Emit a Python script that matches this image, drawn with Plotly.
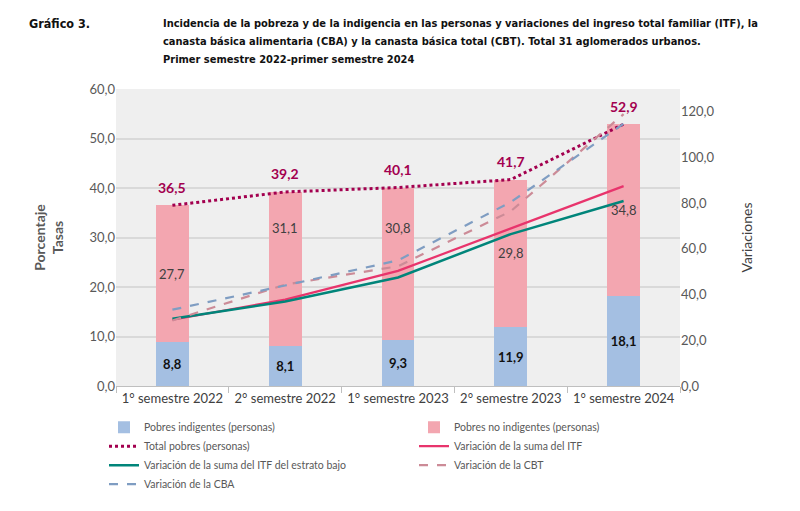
import plotly.graph_objects as go

# data
semestres = ["1° semestre 2022", "2° semestre 2022", "1° semestre 2023",
             "2° semestre 2023", "1° semestre 2024"]
indigentes = [8.8, 8.1, 9.3, 11.9, 18.1]
no_indigentes = [27.7, 31.1, 30.8, 29.8, 34.8]
total_pobres = [36.5, 39.2, 40.1, 41.7, 52.9]
var_itf = [29.0, 37.8, 50.4, 68.8, 87.5]
var_itf_bajo = [29.4, 37.0, 47.5, 66.5, 81.0]
var_cbt = [28.7, 44.4, 52.4, 76.5, 119.0]
var_cba = [33.4, 44.0, 55.0, 80.5, 114.8]

# where the pink labels sit (left axis units)
label_no_ind_y = [22.6, 32.0, 32.0, 26.8, 35.5]

title_lines = [
    "Incidencia de la pobreza y de la indigencia en las personas y variaciones del ingreso total familiar (ITF), la",
    "canasta básica alimentaria (CBA) y la canasta básica total (CBT). Total 31 aglomerados urbanos.",
    "Primer semestre 2022-primer semestre 2024",
]

font_main = "Lato, 'Open Sans', sans-serif"
font_title = "'DejaVu Sans Condensed', 'Liberation Sans', sans-serif"
gray_txt = "#595959"

# page body has an 8px margin, so the figure is drawn 8px in from the corner
OFF = 8
W, H = 800 - OFF, 511 - OFF
# plot area in figure pixels
PL, PR, PT, PB = 116 - OFF, 680 - OFF, 89 - OFF, 412 - OFF


def px_x(x):
    # screen pixel -> paper x
    return (x - OFF - PL) / (PR - PL)


def px_y(y):
    # screen pixel -> paper y
    return (PB - (y - OFF)) / (PB - PT)


fig = go.Figure()

fig.add_trace(go.Bar(
    x=semestres, y=indigentes, name="Pobres indigentes (personas)"
    , marker=dict(color="#a4bfe2", line=dict(width=0))
    , width=0.29
    , text=[f"{v:.1f}".replace(".", ",") for v in indigentes]
    , textposition="inside", insidetextanchor="middle"
    , textfont=dict(color="#111111", size=13, family=font_main, weight="bold")
))
fig.add_trace(go.Bar(
    x=semestres, y=no_indigentes, name="Pobres no indigentes (personas)"
    , marker=dict(color="#f3a6b0", line=dict(width=0))
    , width=0.29
))
fig.add_trace(go.Scatter(
    x=semestres, y=total_pobres, name="Total pobres (personas)"
    , mode="lines", line=dict(color="#a3004f", width=3, dash="dot")
))
fig.add_trace(go.Scatter(
    x=semestres, y=var_itf, name="Variación de la suma del ITF", yaxis="y2"
    , mode="lines", line=dict(color="#e8346c", width=2.2)
))
fig.add_trace(go.Scatter(
    x=semestres, y=var_itf_bajo, name="Variación de la suma del ITF del estrato bajo", yaxis="y2"
    , mode="lines", line=dict(color="#00857a", width=2.5)
))
fig.add_trace(go.Scatter(
    x=semestres, y=var_cbt, name="Variación de la CBT", yaxis="y2"
    , mode="lines", line=dict(color="#cc8b97", width=2.2, dash="dash")
))
fig.add_trace(go.Scatter(
    x=semestres, y=var_cba, name="Variación de la CBA", yaxis="y2"
    , mode="lines", line=dict(color="#7f9dc2", width=2.2, dash="dash")
))

annotations = []
for s, v, ly in zip(semestres, no_indigentes, label_no_ind_y):
    annotations.append(dict(x=s, y=ly, xref="x", yref="y", showarrow=False
                            , text=f"{v:.1f}".replace(".", ",")
                            , font=dict(size=13, color="#404040", family=font_main)))
for s, v in zip(semestres, total_pobres):
    annotations.append(dict(x=s, y=v, xref="x", yref="y", showarrow=False, yshift=18
                            , text=f"<b>{v:.1f}</b>".replace(".", ",")
                            , font=dict(size=14, color="#a3004f", family=font_main)))
annotations.append(dict(x=px_x(27), y=px_y(18), xref="paper", yref="paper", showarrow=False
                        , text="<b>Gráfico 3.</b>", xanchor="left", yanchor="middle"
                        , font=dict(size=12.5, color="#111111", family=font_title)))
for i, line in enumerate(title_lines):
    annotations.append(dict(x=px_x(161), y=px_y(18 + 19.5 * i), xref="paper", yref="paper"
                            , showarrow=False, text=f"<b>{line}</b>"
                            , xanchor="left", yanchor="middle", align="left"
                            , font=dict(size=11, color="#111111", family=font_title)))

fig.update_layout(
    width=W, height=H
    , barmode="stack"
    , separators=",."
    , plot_bgcolor="#efefef", paper_bgcolor="white"
    , margin=dict(l=PL, r=W - PR, t=PT, b=H - PB)
    , font=dict(family=font_main, color=gray_txt, size=13)
    , xaxis=dict(showline=True, linecolor="#bfbfbf", ticks="outside", tickson="boundaries"
                 , ticklen=6, tickcolor="#bfbfbf", tickfont=dict(size=13, color="#404040")
                 , showgrid=False, range=[-0.5, 4.5])
    , yaxis=dict(range=[0, 60], dtick=10, tickformat=".1f", gridcolor="#d9d9d9", gridwidth=1.5
                 , zeroline=False, ticklen=0, ticks="", tickfont=dict(size=13, color=gray_txt)
                 , title=dict(text="<b>Porcentaje<br>Tasas</b>", font=dict(size=14, color=gray_txt), standoff=22))
    , yaxis2=dict(range=[0, 130], dtick=20, tickformat=".1f", overlaying="y", side="right"
                  , showgrid=False, zeroline=False, tickfont=dict(size=13, color=gray_txt)
                  , title=dict(text="Variaciones", font=dict(size=14, color="#404040"), standoff=28))
    , legend=dict(orientation="h", x=px_x(104), y=px_y(441), xanchor="left", yanchor="top"
                  , entrywidth=265, entrywidthmode="pixels", traceorder="normal"
                  , font=dict(size=10.5, color=gray_txt), itemwidth=30, tracegroupgap=0
                  , bgcolor="rgba(0,0,0,0)")
    , annotations=annotations
    , showlegend=True
)

fig.write_html("out.html")
